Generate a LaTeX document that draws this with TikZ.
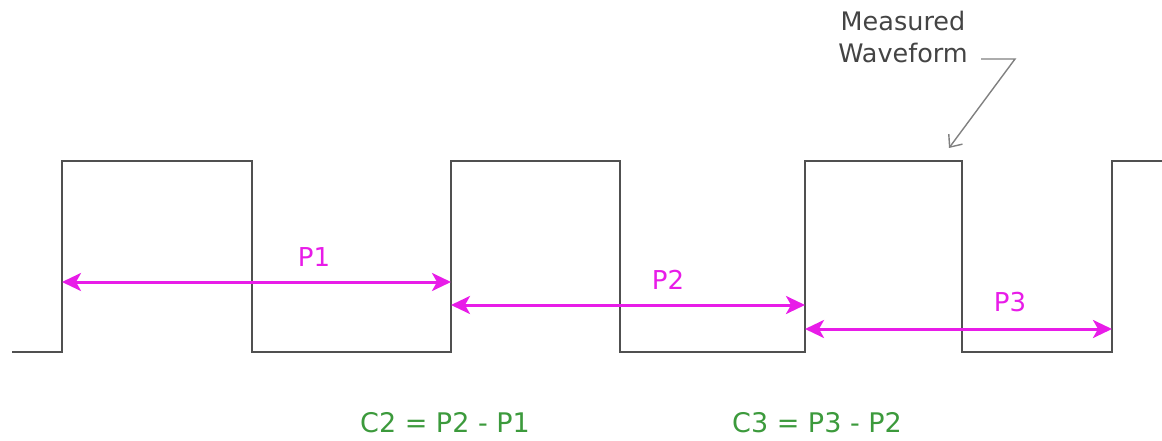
\documentclass[tikz,border=0pt]{standalone}
\usepackage{fontspec}
\setmainfont{DejaVu Sans}
\usetikzlibrary{arrows.meta}
\definecolor{wave}{HTML}{505050}
\definecolor{period}{HTML}{E81CE8}
\definecolor{formula}{HTML}{3C9A3C}
\definecolor{note}{HTML}{444444}
\definecolor{leader}{HTML}{808080}
\tikzset{
  signal/.style={draw=wave, line width=2.8pt, line join=miter},
  span/.style={draw=period, line width=3pt, {Stealth[length=19pt,width=18pt,inset=5pt]}-{Stealth[length=19pt,width=18pt,inset=5pt]}},
  spanlabel/.style={text=period, font=\fontsize{26}{30}\selectfont, inner sep=0pt},
  eqlabel/.style={text=formula, font=\fontsize{27}{32}\selectfont, inner sep=0pt},
  notelabel/.style={text=note, font=\fontsize{25.5}{32}\selectfont, align=center, inner sep=0pt},
  pointer/.style={draw=leader, line width=1.4pt, -{Straight Barb[length=10pt,width=17pt]}}
}
\begin{document}
\begin{tikzpicture}[x=1pt,y=-1pt]
  \useasboundingbox (0,0) rectangle (1162,441);
  % square wave, low at y=352, high at y=161
  \draw[signal] (12,352) -- (62,352) -- (62,161) -- (252,161) -- (252,352)
    -- (451,352) -- (451,161) -- (620,161) -- (620,352)
    -- (805,352) -- (805,161) -- (962,161) -- (962,352)
    -- (1112,352) -- (1112,161) -- (1162,161);
  % rising edges used as period end points
  \coordinate (r1a) at (62,282);
  \coordinate (r2a) at (451,282);
  \coordinate (r2b) at (451,305);
  \coordinate (r3b) at (805,305);
  \coordinate (r3c) at (805,329);
  \coordinate (r4c) at (1112,329);
  \draw[span] (r1a) -- (r2a);
  \draw[span] (r2b) -- (r3b);
  \draw[span] (r3c) -- (r4c);
  \node[spanlabel] (p1) at (314,257) {P1};
  \node[spanlabel] (p2) at (668,280) {P2};
  \node[spanlabel] (p3) at (1010,302) {P3};
  % formulas
  \node[eqlabel] (c2) at (445,423) {C2 = P2 - P1};
  \node[eqlabel] (c3) at (817,423) {C3 = P3 - P2};
  % annotation
  \node[notelabel] (mw) at (903,37) {Measured\\Waveform};
  \coordinate (lead0) at (981,59);
  \coordinate (lead1) at (1015,59);
  \coordinate (leadtip) at (949,148);
  \draw[pointer] (lead0) -- (lead1) -- (leadtip);
\end{tikzpicture}
\end{document}
